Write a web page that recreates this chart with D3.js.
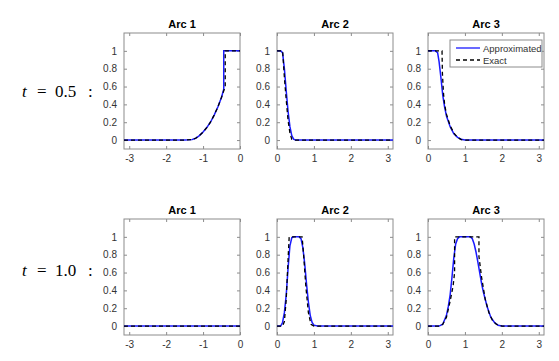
<!DOCTYPE html>
<html>
<head>
<meta charset="utf-8">
<script src="https://cdn.jsdelivr.net/npm/d3@7"></script>
<style>
  body { margin: 0; background: #fff; }
  text { font-family: "Liberation Sans", Arial, sans-serif; }
</style>
</head>
<body>
<div class="app"></div>
<script>
// Panel titles, row labels and tick values.
var arcTitles = ["Arc 1", "Arc 2", "Arc 3"];
var rowLabels = ["0.5", "1.0"];
var yTicks = [0, 0.2, 0.4, 0.6, 0.8, 1];
var xTicksArc1 = [-3, -2, -1, 0];
var xTicksArc23 = [0, 1, 2, 3];
var legendLabels = ["Approximated", "Exact"];

// t = 0.5
var arc1_t05_approx = [[-3.1416,0],[-1.5,0],[-1.3,0.005],[-1.2,0.02],[-1.1,0.05],[-1.0,0.09],[-0.9,0.14],[-0.8,0.2],[-0.7,0.28],[-0.6,0.37],[-0.5,0.48],[-0.44,0.57],[-0.44,1],[-0.2,1],[0,1]];
var arc1_t05_exact  = [[-3.1416,0],[-1.5,0],[-1.3,0.005],[-1.2,0.02],[-1.1,0.05],[-1.0,0.09],[-0.9,0.14],[-0.8,0.2],[-0.7,0.28],[-0.6,0.37],[-0.5,0.48],[-0.4,0.6],[-0.4,1],[-0.2,1],[0,1]];
var arc2_t05_approx = [[0,1],[0.1,1],[0.15,0.98],[0.2,0.8],[0.25,0.55],[0.3,0.32],[0.35,0.15],[0.4,0.05],[0.45,0.01],[0.5,0],[3.1416,0]];
var arc2_t05_exact  = [[0,1],[0.15,1],[0.16,0.95],[0.2,0.7],[0.25,0.45],[0.3,0.22],[0.35,0.08],[0.4,0.01],[0.45,0],[3.1416,0]];
var arc3_t05_approx = [[0,1],[0.2,1],[0.26,0.98],[0.3,0.88],[0.35,0.7],[0.4,0.5],[0.45,0.37],[0.5,0.27],[0.6,0.15],[0.7,0.07],[0.8,0.03],[0.9,0.01],[1.0,0],[3.1416,0]];
var arc3_t05_exact  = [[0,1],[0.38,1],[0.39,0.75],[0.42,0.52],[0.45,0.4],[0.5,0.29],[0.6,0.16],[0.7,0.08],[0.8,0.03],[0.9,0.005],[1.0,0],[3.1416,0]];

// t = 1.0
var arc1_t10_approx = [[-3.1416,0],[0,0]];
var arc1_t10_exact  = [[-3.1416,0],[0,0]];
var arc2_t10_approx = [[0,0],[0.1,0],[0.15,0.04],[0.2,0.15],[0.25,0.35],[0.3,0.65],[0.35,0.9],[0.4,0.99],[0.45,1],[0.6,1],[0.65,0.98],[0.7,0.88],[0.75,0.7],[0.8,0.47],[0.85,0.27],[0.9,0.12],[0.95,0.04],[1.0,0.01],[1.1,0],[3.1416,0]];
var arc2_t10_exact  = [[0,0],[0.15,0],[0.2,0.05],[0.25,0.3],[0.3,0.75],[0.33,1],[0.68,1],[0.72,0.8],[0.78,0.45],[0.85,0.15],[0.92,0.02],[1.0,0],[3.1416,0]];
var arc3_t10_approx = [[0,0],[0.3,0],[0.4,0.02],[0.5,0.12],[0.55,0.22],[0.6,0.35],[0.65,0.55],[0.7,0.77],[0.75,0.92],[0.8,0.98],[0.85,1],[1.15,1],[1.2,0.98],[1.25,0.92],[1.3,0.83],[1.35,0.72],[1.4,0.6],[1.45,0.48],[1.5,0.38],[1.6,0.22],[1.7,0.1],[1.8,0.04],[1.9,0.01],[2.0,0],[3.1416,0]];
var arc3_t10_exact  = [[0,0],[0.3,0],[0.4,0.02],[0.5,0.1],[0.6,0.28],[0.68,0.45],[0.72,0.6],[0.72,1],[1.38,1],[1.38,0.78],[1.45,0.55],[1.55,0.3],[1.65,0.15],[1.75,0.06],[1.85,0.02],[2.0,0],[3.1416,0]];

var rows = [
  [[arc1_t05_approx, arc1_t05_exact], [arc2_t05_approx, arc2_t05_exact], [arc3_t05_approx, arc3_t05_exact]],
  [[arc1_t10_approx, arc1_t10_exact], [arc2_t10_approx, arc2_t10_exact], [arc3_t10_approx, arc3_t10_exact]]
];

var W = 559, H = 361;
var panelLeft = [124, 277, 428], panelW = 116, panelH = 116;
var rowTop = [33, 219];
var labelBase = [97, 276];
var axisColor = "#8c8c8c", labelColor = "#333", blue = "#1a1aff";

var svg = d3.select(".app").append("svg")
    .attr("width", W)
    .attr("height", H);

rows.forEach(function(row, r) {
  // row label  "t = 0.5 :"  (pieces spaced like LaTeX math)
  var serif = "'Liberation Serif', 'DejaVu Serif', serif";
  var pieces = [["t", 22, "italic"], ["=", 37, "normal"], [rowLabels[r], 55, "normal"], [":", 88, "normal"]];
  pieces.forEach(function(p) {
    svg.append("text")
        .attr("x", p[1])
        .attr("y", labelBase[r])
        .style("font-family", serif)
        .style("font-size", "17px")
        .style("font-style", p[2])
        .attr("fill", "#000")
        .text(p[0]);
  });

  row.forEach(function(series, c) {
    var x = d3.scaleLinear()
        .domain(c === 0 ? [-Math.PI, 0] : [0, Math.PI])
        .range([0, panelW]);
    var y = d3.scaleLinear().domain([-0.1, 1.2]).range([panelH, 0]);
    var xt = c === 0 ? xTicksArc1 : xTicksArc23;

    var g = svg.append("g")
        .attr("transform", "translate(" + panelLeft[c] + "," + rowTop[r] + ")");

    var clipId = "clip" + r + c;
    g.append("clipPath").attr("id", clipId)
      .append("rect").attr("width", panelW).attr("height", panelH);

    // axes, ticks pointing in, on all four sides
    var xAxis = d3.axisBottom(x).tickValues(xt).tickSize(-3).tickPadding(6).tickFormat(function(d){ return String(d); });
    var xAxisTop = d3.axisTop(x).tickValues(xt).tickSize(-3).tickFormat("");
    var yAxis = d3.axisLeft(y).tickValues(yTicks).tickSize(-3).tickPadding(7).tickFormat(function(d){ return String(d); });
    var yAxisRight = d3.axisRight(y).tickValues(yTicks).tickSize(-3).tickFormat("");

    g.append("g").attr("transform", "translate(0," + panelH + ")").call(xAxis);
    g.append("g").call(xAxisTop);
    g.append("g").call(yAxis);
    g.append("g").attr("transform", "translate(" + panelW + ",0)").call(yAxisRight);

    g.selectAll(".domain").remove();
    g.selectAll(".tick line").attr("stroke", axisColor);
    g.selectAll(".tick text").attr("fill", labelColor).style("font-size", "10px");

    g.append("rect")
        .attr("width", panelW).attr("height", panelH)
        .attr("fill", "none").attr("stroke", axisColor).attr("stroke-width", 1);

    var line = d3.line()
        .x(function(d){ return x(d[0]); })
        .y(function(d){ return y(d[1]); });

    var plot = g.append("g").attr("clip-path", "url(#" + clipId + ")");
    plot.append("path")
        .datum(series[0])
        .attr("d", line)
        .attr("fill", "none")
        .attr("stroke", blue)
        .attr("stroke-width", 1.5);
    plot.append("path")
        .datum(series[1])
        .attr("d", line)
        .attr("fill", "none")
        .attr("stroke", "#000")
        .attr("stroke-width", 1.3)
        .attr("stroke-dasharray", "4,3");

    g.append("text")
        .attr("x", panelW / 2)
        .attr("y", -5)
        .attr("text-anchor", "middle")
        .style("font-size", "11px")
        .style("font-weight", "bold")
        .attr("fill", "#000")
        .text(arcTitles[c]);

    // legend in top-right panel
    if (r === 0 && c === 2) {
      var lg = g.append("g").attr("transform", "translate(22,7)");
      lg.append("rect")
          .attr("width", 92).attr("height", 27)
          .attr("fill", "#fff").attr("stroke", axisColor);
      [[blue, null], ["#000", "4,3"]].forEach(function(s, i) {
        lg.append("line")
            .attr("x1", 6).attr("x2", 30)
            .attr("y1", 8 + i * 12).attr("y2", 8 + i * 12)
            .attr("stroke", s[0])
            .attr("stroke-width", 1.3)
            .attr("stroke-dasharray", s[1]);
        lg.append("text")
            .attr("x", 33).attr("y", 11.5 + i * 12)
            .style("font-size", "9.5px")
            .attr("fill", labelColor)
            .text(legendLabels[i]);
      });
    }
  });
});
</script>
</body>
</html>
